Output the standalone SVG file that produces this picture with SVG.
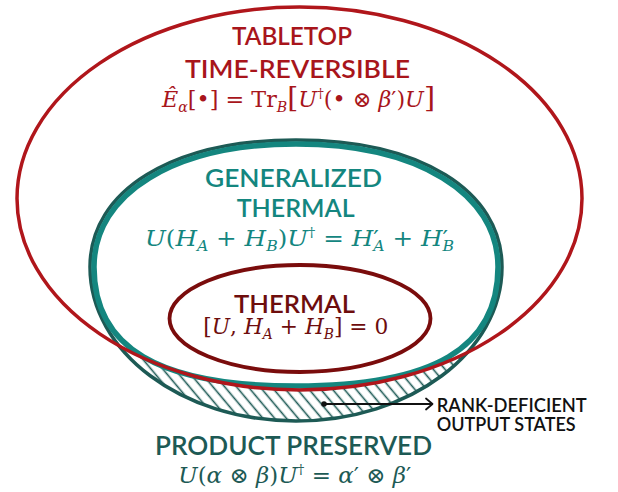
<svg xmlns="http://www.w3.org/2000/svg" width="618" height="492" viewBox="0 0 618 492">
<style>
.lbl{font-family:Lato,"Open Sans","DejaVu Sans",sans-serif;font-weight:600;}
.m{font-family:"DejaVu Serif","Liberation Serif",serif;font-size:22px;}
.i{font-style:italic;}
.sub{font-size:14px;}
.sup{font-size:13px;}
.big{font-size:28px;}
.red{fill:#a8151b;}
.teal{fill:#14867f;}
.dteal{fill:#1d5a55;}
.dred{fill:#6e0d0d;}
</style>
<defs>
<pattern id="hatch" patternUnits="userSpaceOnUse" width="9" height="10" patternTransform="rotate(-40)">
<line x1="4.5" y1="-1" x2="4.5" y2="11" stroke="#1d5a55" stroke-width="1.6"/>
</pattern>
<clipPath id="prodClip">
<path d="M90,267 C90,190.5 172.4,140 296,140 C419.6,140 502,190.5 502,267 C502,351.7 410.1,421 296,421 C181.9,421 90,351.7 90,267 Z"/>
</clipPath>
</defs>
<rect width="618" height="492" fill="#ffffff"/>

<g id="hatch-region">
<rect x="80" y="130" width="440" height="300" fill="url(#hatch)" clip-path="url(#prodClip)"/>
<ellipse cx="299.5" cy="198.5" rx="282.5" ry="191.5" fill="#ffffff"/>
</g>

<g id="node-product">
<path d="M90,267 C90,190.5 172.4,140 296,140 C419.6,140 502,190.5 502,267 C502,351.7 410.1,421 296,421 C181.9,421 90,351.7 90,267 Z" fill="none" stroke="#1d5a55" stroke-width="3.5"/>
<text class="lbl dteal" x="155" y="455" font-size="27.5" textLength="277" lengthAdjust="spacingAndGlyphs">PRODUCT PRESERVED</text>
<text class="m dteal" x="178.3" y="483" textLength="233" lengthAdjust="spacingAndGlyphs"><tspan class="i">U</tspan>(<tspan class="i">α</tspan> ⊗ <tspan class="i">β</tspan>)<tspan class="i">U</tspan><tspan class="sup" dy="-9">†</tspan><tspan dy="9"> = </tspan><tspan class="i">α</tspan>′ ⊗ <tspan class="i">β</tspan>′</text>
</g>

<g id="node-generalized">
<path d="M94,267 C94,193.2 174.8,144 296,144 C417.2,144 498,193.2 498,267 C498,347.9 433.4,386 296,386 C158.6,386 94,347.9 94,267 Z" fill="none" stroke="#14867f" stroke-width="5.5"/>
<text class="lbl teal" x="205" y="187.3" font-size="24.5" textLength="177" lengthAdjust="spacingAndGlyphs">GENERALIZED</text>
<text class="lbl teal" x="236.7" y="216.7" font-size="25.5" textLength="118" lengthAdjust="spacingAndGlyphs">THERMAL</text>
<text class="m teal" x="145" y="246" textLength="309" lengthAdjust="spacingAndGlyphs"><tspan class="i">U</tspan>(<tspan class="i">H</tspan><tspan class="i sub" dy="5">A</tspan><tspan dy="-5"> + </tspan><tspan class="i">H</tspan><tspan class="i sub" dy="5">B</tspan><tspan dy="-5">)</tspan><tspan class="i">U</tspan><tspan class="sup" dy="-9">†</tspan><tspan dy="9"> = </tspan><tspan class="i">H</tspan>′<tspan class="i sub" dx="-5" dy="5">A</tspan><tspan dy="-5"> + </tspan><tspan class="i">H</tspan>′<tspan class="i sub" dx="-5" dy="5">B</tspan></text>
</g>

<g id="node-thermal">
<ellipse cx="300" cy="318.5" rx="130.5" ry="53.5" fill="none" stroke="#7a0c0c" stroke-width="3.8"/>
<text class="lbl dred" x="234" y="313.3" font-size="25.5" textLength="121" lengthAdjust="spacingAndGlyphs">THERMAL</text>
<text class="m dred" x="203.3" y="334" textLength="185" lengthAdjust="spacingAndGlyphs">[<tspan class="i">U</tspan>, <tspan class="i">H</tspan><tspan class="i sub" dy="5">A</tspan><tspan dy="-5"> + </tspan><tspan class="i">H</tspan><tspan class="i sub" dy="5">B</tspan><tspan dy="-5">] = 0</tspan></text>
</g>

<g id="node-tabletop">
<ellipse cx="299.5" cy="198.5" rx="282.5" ry="191.5" fill="none" stroke="#b0161b" stroke-width="3.5"/>
<text class="lbl red" x="232" y="45" font-size="25.5" textLength="120" lengthAdjust="spacingAndGlyphs">TABLETOP</text>
<text class="lbl red" x="185" y="77.7" font-size="25.5" textLength="225" lengthAdjust="spacingAndGlyphs">TIME-REVERSIBLE</text>
<text class="m red" x="162" y="107" textLength="273" lengthAdjust="spacingAndGlyphs"><tspan class="i">Ê</tspan><tspan class="i sub" dy="5">α</tspan><tspan dy="-5">[•] = Tr</tspan><tspan class="i sub" dy="5">B</tspan><tspan class="big" dy="-5">[</tspan><tspan class="i">U</tspan><tspan class="sup" dy="-9">†</tspan><tspan dy="9">(• ⊗ </tspan><tspan class="i">β</tspan>′)<tspan class="i">U</tspan><tspan class="big">]</tspan></text>
</g>

<g id="node-rank">
<text class="lbl" fill="#111111" x="436.7" y="411.7" font-size="18.5" textLength="150" lengthAdjust="spacingAndGlyphs">RANK-DEFICIENT</text>
<text class="lbl" fill="#111111" x="436.7" y="430.7" font-size="18.5" textLength="139" lengthAdjust="spacingAndGlyphs">OUTPUT STATES</text>
</g>

<g id="connectors">
<circle cx="324" cy="404" r="2.8" fill="#111111"/>
<line x1="324" y1="404" x2="432" y2="404" stroke="#111111" stroke-width="1.8"/>
<polyline points="426,398.5 432.5,404 426,409.5" fill="none" stroke="#111111" stroke-width="1.8" stroke-linecap="round" stroke-linejoin="round"/>
</g>
</svg>
